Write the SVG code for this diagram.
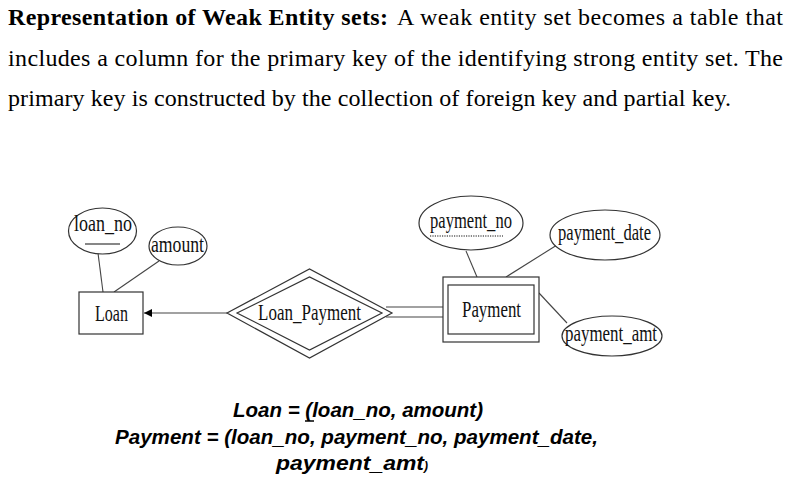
<svg xmlns="http://www.w3.org/2000/svg" width="796" height="485" viewBox="0 0 796 485">
<style>
.p{font-family:"Liberation Serif","Times New Roman",serif;font-size:24px;fill:#000}
.b{font-weight:bold}
.lbl{font-family:"Liberation Serif","Times New Roman",serif;font-size:23px;fill:#111;text-anchor:middle}
.shape{fill:#fff;stroke:#333;stroke-width:1.2}
.ln{stroke:#444;stroke-width:1.1;fill:none}
.rel{font-family:"Liberation Sans",Arial,sans-serif;font-size:20px;font-weight:bold;font-style:italic;fill:#000}
</style>
<defs>
<marker id="arr" viewBox="0 0 10 10" refX="10" refY="5" markerWidth="8" markerHeight="8" markerUnits="userSpaceOnUse" orient="auto">
<path d="M0,0 L10,5 L0,10 z" fill="#000"/>
</marker>
</defs>
<rect width="796" height="485" fill="#fff"/>
<g id="heading">
<text class="p b" x="8" y="25" textLength="380" lengthAdjust="spacing">Representation of Weak Entity sets:</text>
<text class="p" x="397" y="25" textLength="386" lengthAdjust="spacing">A weak entity set becomes a table that</text>
<text class="p" x="8" y="66" textLength="775" lengthAdjust="spacing">includes a column for the primary key of the identifying strong entity set. The</text>
<text class="p" x="8" y="106" textLength="723" lengthAdjust="spacing">primary key is constructed by the collection of foreign key and partial key.</text>
</g>
<g id="connectors">
<line class="ln" x1="98" y1="253" x2="103" y2="292"/>
<line class="ln" x1="159" y1="261" x2="114" y2="292"/>
<line class="ln" x1="227" y1="313" x2="144" y2="313" marker-end="url(#arr)"/>
<line class="ln" x1="386" y1="307" x2="443" y2="307"/>
<line class="ln" x1="386" y1="317" x2="443" y2="317"/>
<line class="ln" x1="466" y1="251" x2="477" y2="277"/>
<line class="ln" x1="557" y1="245" x2="506" y2="277"/>
<line class="ln" x1="539" y1="293" x2="567" y2="323"/>
</g>
<g id="loan_no">
<ellipse class="shape" cx="102.5" cy="231" rx="34" ry="23"/>
<text class="lbl" x="103" y="231" textLength="58" lengthAdjust="spacingAndGlyphs">loan_no</text>
<line x1="85" y1="244" x2="120" y2="244" stroke="#111" stroke-width="1.2"/>
</g>
<g id="amount">
<ellipse class="shape" cx="178" cy="246" rx="29" ry="19"/>
<text class="lbl" x="177.5" y="252" textLength="53" lengthAdjust="spacingAndGlyphs">amount</text>
</g>
<g id="Loan">
<rect class="shape" x="79" y="292" width="64" height="42"/>
<text class="lbl" x="111.5" y="321" textLength="33" lengthAdjust="spacingAndGlyphs">Loan</text>
</g>
<g id="Loan_Payment">
<polygon class="shape" points="227,313 309.5,269 392,313 309.5,358"/>
<polygon class="shape" points="237,313 309.5,277 382,313 309.5,350"/>
<text class="lbl" x="309.5" y="320" textLength="103" lengthAdjust="spacingAndGlyphs">Loan_Payment</text>
</g>
<g id="Payment">
<rect class="shape" x="443" y="277" width="96" height="65"/>
<rect class="shape" x="448" y="285" width="86" height="49"/>
<text class="lbl" x="491.5" y="317" textLength="59" lengthAdjust="spacingAndGlyphs">Payment</text>
</g>
<g id="payment_no">
<ellipse class="shape" cx="471" cy="223" rx="52" ry="27"/>
<text class="lbl" x="471" y="228" textLength="82" lengthAdjust="spacingAndGlyphs">payment_no</text>
<line x1="430" y1="236" x2="503" y2="236" stroke="#111" stroke-width="1.2" stroke-dasharray="1.2,1.2"/>
</g>
<g id="payment_date">
<ellipse class="shape" cx="605" cy="235" rx="55" ry="25"/>
<text class="lbl" x="604.5" y="240" textLength="93" lengthAdjust="spacingAndGlyphs">payment_date</text>
</g>
<g id="payment_amt">
<ellipse class="shape" cx="612" cy="336" rx="50" ry="20"/>
<text class="lbl" x="611" y="341" textLength="92" lengthAdjust="spacingAndGlyphs">payment_amt</text>
</g>
<g id="relations">
<text class="rel" x="233" y="417" textLength="250" lengthAdjust="spacingAndGlyphs">Loan = (loan_no, amount)</text>
<line x1="305" y1="421" x2="314" y2="421" stroke="#000" stroke-width="1.5"/>
<text class="rel" x="115" y="444" textLength="483" lengthAdjust="spacingAndGlyphs">Payment = (loan_no, payment_no, payment_date,</text>
<text class="rel" x="276" y="470"><tspan textLength="148" lengthAdjust="spacingAndGlyphs">payment_amt</tspan><tspan font-size="12">)</tspan></text>
</g>
</svg>
